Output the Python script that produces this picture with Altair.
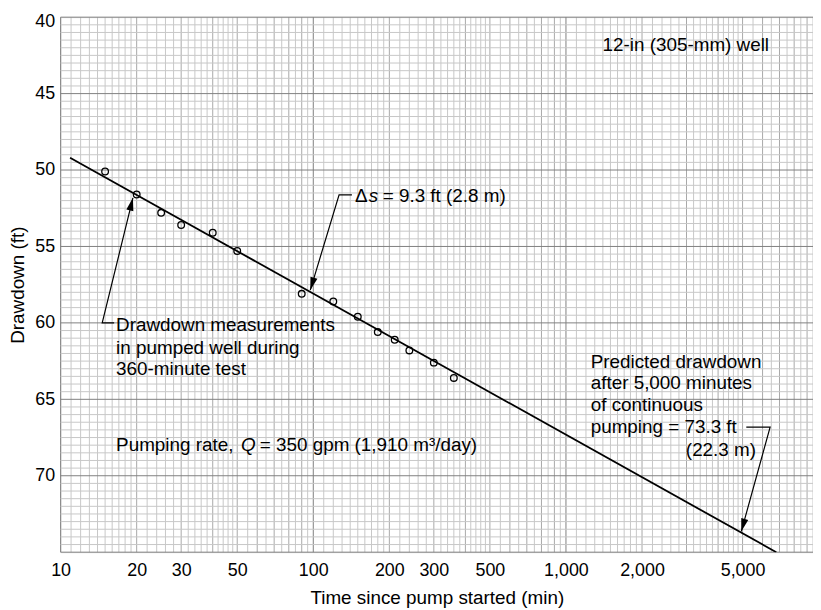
import altair as alt
import pandas as pd

# ---------------- data ----------------
time_min = [15, 20, 25, 30, 40, 50, 90, 120, 150, 180, 210, 240, 300, 360]
drawdown_ft = [50.1, 51.6, 52.8, 53.6, 54.1, 55.3, 58.1, 58.6, 59.6, 60.6, 61.1, 61.8, 62.6, 63.6]

fit_time = [10.9, 6800]
fit_drawdown = [49.2, 75.0]

x_ticks = [10, 20, 30, 50, 100, 200, 300, 500, 1000, 2000, 5000]
y_ticks = [40, 45, 50, 55, 60, 65, 70]
X_DOMAIN = [10, 9500]
Y_DOMAIN = [40, 75]

# log-paper rulings (mantissas within each decade)
decades = [10, 100, 1000]
minor_mant = [1.1, 1.2, 1.3, 1.4, 1.5, 1.6, 1.7, 1.8, 1.9,
              2.2, 2.4, 2.6, 2.8, 3.2, 3.4, 3.6, 3.8, 4.2, 4.4, 4.6, 4.8,
              5.5, 6.5, 7.5, 8.5, 9.5]
mid_mant = [2, 3, 4, 5, 6, 7, 8, 9]
y_minor_step = 0.5
y_major_step = 5

# annotations (text, x, y)
ann_text = ["12-in (305-mm) well", "\u0394", "= 9.3 ft (2.8 m)",
            "Drawdown measurements", "in pumped well during", "360-minute test",
            "Pumping rate,", "= 350 gpm (1,910 m\u00b3/day)",
            "Predicted drawdown", "after 5,000 minutes", "of continuous",
            "pumping = 73.3 ft", "(22.3 m)"]
ann_x = [1396, 146.1, 188.2, 16.58, 16.58, 16.58, 16.58, 61.4,
         1253, 1253, 1253, 1253, 2982]
ann_y = [41.82, 51.69, 51.69, 60.13, 61.62, 63.05, 67.99, 67.99,
         62.53, 63.96, 65.39, 66.82, 68.31]

ital_text = ["s", "Q"]
ital_x = [165.8, 51.7]
ital_y = [51.69, 67.99]

# leader lines (group, x, y)
lead_grp = ["ds", "ds", "ds", "dm", "dm", "dm", "pd", "pd", "pd"]
lead_x = [142.2, 126.5, 97.3, 16.29, 14.61, 19.33, 5173, 6427, 4943]
lead_y = [51.62, 51.62, 57.86, 60.0, 60.0, 51.82, 66.82, 66.82, 73.64]

# arrow heads (tip x, tip y, direction angle in degrees)
head_x = [97.3, 19.33, 4943]
head_y = [57.86, 51.82, 73.64]
head_angle = [196.5, 13.8, 195.4]

# ---------------- build tables ----------------
vrows = []
for d in decades:
    for m in minor_mant:
        if d * m <= X_DOMAIN[1]:
            vrows.append({"v": d * m, "k": "minor"})
    for m in mid_mant:
        if d * m <= X_DOMAIN[1]:
            vrows.append({"v": d * m, "k": "mid"})
    vrows.append({"v": d, "k": "major"})
vgrid = pd.DataFrame(vrows)

hrows = []
n = int((Y_DOMAIN[1] - Y_DOMAIN[0]) / y_minor_step)
for i in range(n + 1):
    v = Y_DOMAIN[0] + i * y_minor_step
    hrows.append({"v": v, "k": "major" if abs(v % y_major_step) < 1e-9 else "minor"})
hgrid = pd.DataFrame(hrows)

pts = pd.DataFrame({"t": time_min, "s": drawdown_ft})
fit = pd.DataFrame({"t": fit_time, "s": fit_drawdown})
ann = pd.DataFrame({"text": ann_text, "t": ann_x, "s": ann_y})
ital = pd.DataFrame({"text": ital_text, "t": ital_x, "s": ital_y})
lead = pd.DataFrame({"g": lead_grp, "t": lead_x, "s": lead_y,
                     "o": list(range(len(lead_x)))})
heads = pd.DataFrame({"t": head_x, "s": head_y, "a": head_angle})

FONT = "Liberation Sans"
xscale = alt.Scale(type="log", domain=X_DOMAIN, nice=False)
yscale = alt.Scale(domain=Y_DOMAIN, reverse=True, nice=False, zero=False)

kcolor = alt.Color("k:N", legend=None,
                   scale=alt.Scale(domain=["minor", "mid", "major"],
                                   range=["#c8c8c8", "#a8a8a8", "#808080"]))

xaxis = alt.Axis(values=x_ticks, format=",", grid=False, ticks=False, tickSize=0,
                 domain=False, labelFontSize=18, labelColor="black", labelPadding=10,
                 labelFont=FONT, title="Time since pump started (min)",
                 titleFontSize=19, titleFontWeight="normal", titleColor="black",
                 titleFont=FONT, titlePadding=9, labelFlush=False, labelOverlap=False)
yaxis = alt.Axis(values=y_ticks, grid=False, ticks=False, tickSize=0, domain=False,
                 labelFontSize=18, labelColor="black", labelPadding=6, labelFont=FONT,
                 labelFlush=True, labelFlushOffset=5,
                 title="Drawdown (ft)", titleFontSize=19, titleFontWeight="normal",
                 titleColor="black", titleFont=FONT, titlePadding=7)

vlines = alt.Chart(vgrid).mark_rule(strokeWidth=1).encode(
    x=alt.X("v:Q", scale=xscale, axis=xaxis), color=kcolor)
hlines = alt.Chart(hgrid).mark_rule(strokeWidth=1).encode(
    y=alt.Y("v:Q", scale=yscale, axis=yaxis), color=kcolor)

fit_line = alt.Chart(fit).mark_line(color="black", strokeWidth=1.8, clip=True).encode(
    x=alt.X("t:Q", scale=xscale), y=alt.Y("s:Q", scale=yscale))

points = alt.Chart(pts).mark_point(shape="circle", filled=False, color="black",
                                   strokeWidth=1.3, size=45, opacity=1).encode(
    x=alt.X("t:Q", scale=xscale), y=alt.Y("s:Q", scale=yscale))

leaders = alt.Chart(lead).mark_line(color="black", strokeWidth=1.2).encode(
    x=alt.X("t:Q", scale=xscale), y=alt.Y("s:Q", scale=yscale),
    detail="g:N", order="o:Q")

arrow_path = "M0,0 L0.28,1 L-0.28,1 Z"
arrowheads = alt.Chart(heads).mark_point(shape=arrow_path, filled=True, color="black",
                                         size=676, opacity=1).encode(
    x=alt.X("t:Q", scale=xscale), y=alt.Y("s:Q", scale=yscale),
    angle=alt.Angle("a:Q", scale=None))

texts = alt.Chart(ann).mark_text(align="left", baseline="middle", fontSize=19,
                                 font=FONT, color="black").encode(
    x=alt.X("t:Q", scale=xscale), y=alt.Y("s:Q", scale=yscale), text="text:N")
itexts = alt.Chart(ital).mark_text(align="left", baseline="middle", fontSize=19,
                                   font=FONT, fontStyle="italic", color="black").encode(
    x=alt.X("t:Q", scale=xscale), y=alt.Y("s:Q", scale=yscale), text="text:N")

chart = alt.layer(vlines, hlines, fit_line, points, leaders, arrowheads, texts, itexts).properties(
    width=758, height=539,
    autosize=alt.AutoSizeParams(type="none"),
    padding={"left": 53, "top": 7, "right": 0, "bottom": 54},
).configure_view(stroke=None).configure(background="white")

chart.save("out.html", embed_options={"renderer": "svg", "actions": False})
